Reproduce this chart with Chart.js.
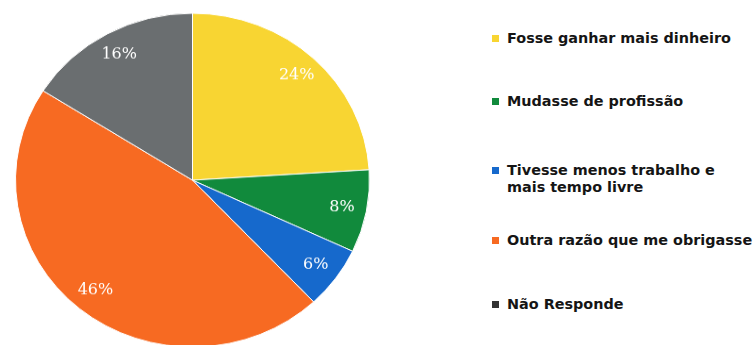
<!DOCTYPE html>
<html>
<head>
<meta charset="utf-8">
<script src="https://cdn.jsdelivr.net/npm/chart.js@4"></script>
<style>
  body { margin: 0; background: #fff; width: 755px; height: 345px; overflow: hidden; position: relative; }
  #wrap { position: absolute; left: 0; top: 1px; width: 385px; height: 380px; transform: scaleY(0.943); transform-origin: 0 0; }
  #legend { position: absolute; left: 0; top: 0; font-family: "DejaVu Sans", sans-serif; font-weight: bold; font-size: 14.4px; color: #151515; }
  .item { position: absolute; left: 492px; white-space: nowrap; line-height: 17px; }
  .item .sw { position: absolute; left: 0; top: 5px; width: 7px; height: 7px; }
  .item .tx { position: absolute; left: 15px; top: 0; }
</style>
</head>
<body>
<div id="wrap"><canvas id="myPie" width="385" height="380"></canvas></div>
<div id="legend"></div>
<script>
// -- answers (percent)
var labels = ["Fosse ganhar mais dinheiro", "Mudasse de profissão", ["Tivesse menos trabalho e", "mais tempo livre"], "Outra razão que me obrigasse", "Não Responde"];
var values = [24, 8, 6, 46, 16];
var colors = ['#f8d532', '#118a3c', '#1669cc', '#f76a22', '#6a6e70'];
var legendColors = ['#f8d532', '#118a3c', '#1669cc', '#f76a22', '#333333'];

// white percentage text inside each slice
var sliceLabels = {
  id: 'sliceLabels',
  afterDatasetsDraw: function(chart) {
    var ctx = chart.ctx;
    var meta = chart.getDatasetMeta(0);
    ctx.save();
    ctx.font = '16px "DejaVu Serif", serif';
    ctx.fillStyle = '#ffffff';
    ctx.textAlign = 'center';
    ctx.textBaseline = 'middle';
    meta.data.forEach(function(arc, i) {
      var mid = (arc.startAngle + arc.endAngle) / 2;
      var r = arc.outerRadius * 0.86;
      ctx.fillText(values[i] + '%', arc.x + Math.cos(mid) * r, arc.y + Math.sin(mid) * r);
    });
    ctx.restore();
  }
};

var ctx = document.getElementById("myPie");
var myPie = new Chart(ctx, {
  type: 'pie',
  data: {
    labels: labels,
    datasets: [{
      data: values,
      backgroundColor: colors,
      borderColor: '#ffffff',
      borderWidth: 1,
      radius: 177
    }],
  },
  options: {
    responsive: false,
    animation: false,
    plugins: { legend: { display: false }, tooltip: { enabled: false } }
  },
  plugins: [sliceLabels]
});

// -- legend on the right
var tops = [30, 93, 162, 232, 296];
var legend = document.getElementById("legend");
labels.forEach(function(lab, i) {
  var item = document.createElement("div");
  item.className = "item";
  item.style.top = tops[i] + "px";
  var sw = document.createElement("span");
  sw.className = "sw";
  sw.style.background = legendColors[i];
  var tx = document.createElement("span");
  tx.className = "tx";
  tx.innerHTML = [].concat(lab).join("<br>");
  item.appendChild(sw);
  item.appendChild(tx);
  legend.appendChild(item);
});
</script>
</body>
</html>
